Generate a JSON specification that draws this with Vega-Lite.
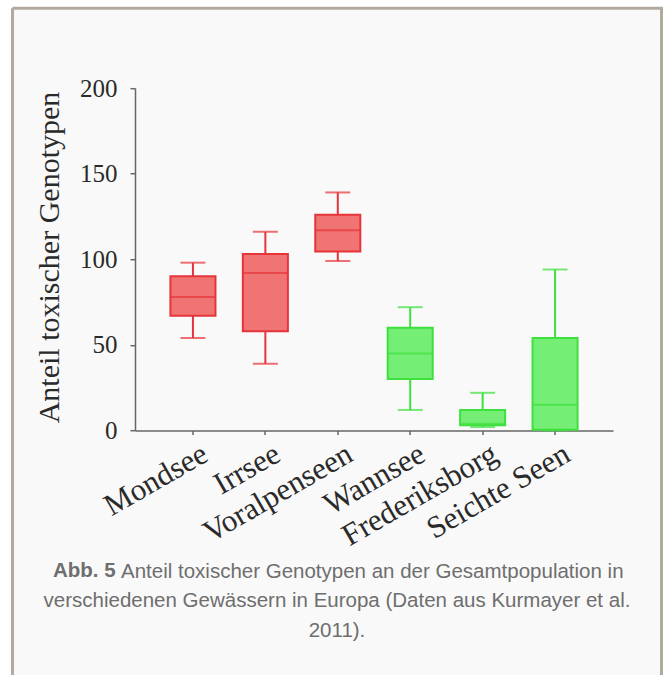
{
  "$schema": "https://vega.github.io/schema/vega-lite/v6.json",
  "autosize": "none",
  "width": 649,
  "height": 666.8,
  "padding": {"left": 12.5, "top": 8.2, "right": 5.5, "bottom": 0},
  "background": "#ffffff",
  "title": {
    "text": ["verschiedenen Gewässern in Europa (Daten aus Kurmayer et al.", "2011)."],
    "orient": "top",
    "anchor": "middle",
    "frame": "group",
    "offset": 0,
    "font": "Liberation Sans",
    "fontSize": 20.5,
    "fontWeight": "normal",
    "color": "#6e6e6e",
    "lineHeight": 30,
    "baseline": "alphabetic",
    "dy": 649.5
  },
  "data": {
    "values": [
      {"see": "Mondsee", "gruppe": "Alpen", "lo": 54, "q1": 67, "median": 78, "q3": 90, "hi": 98},
      {"see": "Irrsee", "gruppe": "Alpen", "lo": 39, "q1": 58, "median": 92, "q3": 103, "hi": 116},
      {"see": "Voralpenseen", "gruppe": "Alpen", "lo": 99, "q1": 104.5, "median": 117, "q3": 126, "hi": 139},
      {"see": "Wannsee", "gruppe": "Flach", "lo": 12, "q1": 30, "median": 45, "q3": 60, "hi": 72},
      {"see": "Frederiksborg", "gruppe": "Flach", "lo": 2, "q1": 3, "median": 4, "q3": 12, "hi": 22},
      {"see": "Seichte Seen", "gruppe": "Flach", "lo": 0, "q1": 0.5, "median": 15, "q3": 54, "hi": 94}
    ]
  },
  "encoding": {
    "x": {
      "field": "see",
      "type": "nominal",
      "sort": null,
      "scale": {"range": [122.5, 600.5], "paddingInner": 0.378, "paddingOuter": 0.489},
      "axis": {
        "orient": "bottom",
        "offset": -244.5,
        "title": "Abb. 5",
        "titleFont": "Liberation Sans",
        "titleFontSize": 20.5,
        "titleFontWeight": "bold",
        "titleColor": "#6e6e6e",
        "titleAlign": "left",
        "titleBaseline": "alphabetic",
        "titleAngle": 0,
        "titleX": 40,
        "titleY": 146,
        "labelAngle": -30,
        "labelAlign": "right",
        "labelBaseline": "top",
        "labelPadding": 4,
        "labelOffset": 5,
        "labelFont": "Liberation Serif",
        "labelFontSize": 31,
        "labelColor": "#2a2a2a",
        "labelLimit": 400,
        "tickSize": 4
      }
    }
  },
  "layer": [
    {
      "mark": {"type": "rule", "strokeWidth": 2},
      "encoding": {
        "y": {
          "field": "lo",
          "type": "quantitative",
          "scale": {"domain": [0, 200], "nice": false, "range": [422.3, 79.8]},
          "axis": {
            "orient": "left",
            "offset": -122.5,
            "values": [0, 50, 100, 150, 200],
            "title": "Anteil toxischer Genotypen",
            "titleFont": "Liberation Serif",
            "titleFontSize": 30,
            "titleFontWeight": "normal",
            "titleColor": "#2a2a2a",
            "titleAngle": 270,
            "titleAlign": "center",
            "titleBaseline": "alphabetic",
            "titleX": -77,
            "titleY": 248.8,
            "labelFont": "Liberation Serif",
            "labelFontSize": 25,
            "labelColor": "#2a2a2a",
            "labelPadding": 13,
            "tickSize": 5
          }
        },
        "y2": {"field": "hi"},
        "color": {"field": "gruppe", "type": "nominal", "scale": {"domain": ["Alpen", "Flach"], "range": ["#e5343a", "#3ee03e"]}, "legend": null}
      }
    },
    {
      "mark": {"type": "bar", "strokeWidth": 2},
      "encoding": {
        "y": {
          "field": "q1",
          "type": "quantitative",
          "axis": {
            "orient": "right",
            "offset": 0,
            "domain": false,
            "ticks": false,
            "labels": false,
            "title": "Anteil toxischer Genotypen an der Gesamtpopulation in",
            "titleFont": "Liberation Sans",
            "titleFontSize": 20.5,
            "titleFontWeight": "normal",
            "titleColor": "#6e6e6e",
            "titleAngle": 0,
            "titleAlign": "left",
            "titleBaseline": "alphabetic",
            "titleX": -541,
            "titleY": 568.8
          }
        },
        "y2": {"field": "q3"},
        "fill": {"field": "gruppe", "type": "nominal", "scale": {"domain": ["Alpen", "Flach"], "range": ["#f07474", "#74ee74"]}, "legend": null},
        "stroke": {"field": "gruppe", "type": "nominal", "scale": {"domain": ["Alpen", "Flach"], "range": ["#e5343a", "#3ee03e"]}, "legend": null}
      }
    },
    {
      "mark": {"type": "tick", "thickness": 2, "size": 45},
      "encoding": {
        "y": {"field": "median", "type": "quantitative", "axis": null},
        "color": {"field": "gruppe", "type": "nominal", "legend": null}
      }
    },
    {
      "mark": {"type": "tick", "thickness": 2, "size": 25},
      "encoding": {
        "y": {"field": "lo", "type": "quantitative", "axis": null},
        "color": {"field": "gruppe", "type": "nominal", "legend": null}
      }
    },
    {
      "mark": {"type": "tick", "thickness": 2, "size": 25},
      "encoding": {
        "y": {"field": "hi", "type": "quantitative", "axis": null},
        "color": {"field": "gruppe", "type": "nominal", "legend": null}
      }
    }
  ],
  "resolve": {"axis": {"y": "independent"}},
  "config": {
    "view": {"fill": "#f9f9f9", "stroke": "#b3aa9e", "strokeWidth": 3, "strokeDash": [1315.8, 649, 666.8, 0]},
    "axis": {"grid": false, "domainColor": "#666666", "domainWidth": 1.5, "tickColor": "#666666", "tickWidth": 1.5}
  }
}
